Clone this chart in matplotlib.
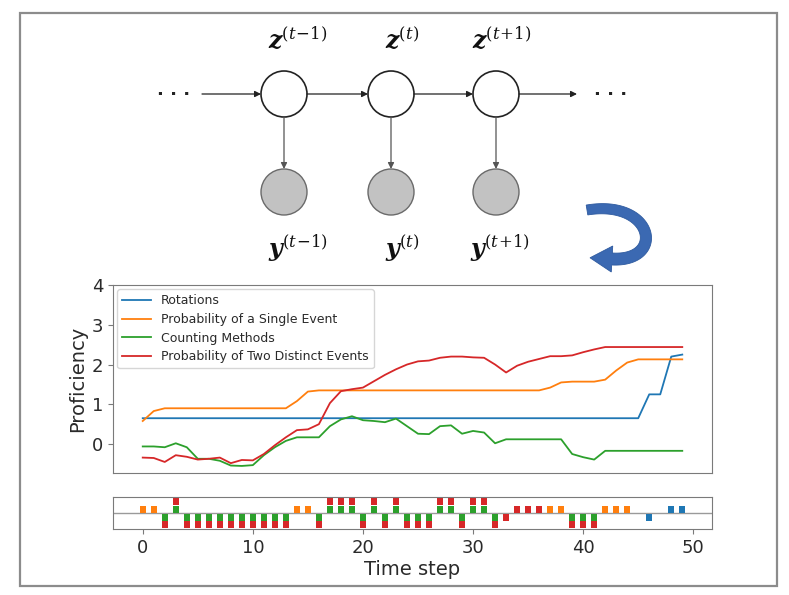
import matplotlib
matplotlib.use('Agg')
import matplotlib.pyplot as plt
from matplotlib.patches import Circle, Rectangle, Polygon
import numpy as np

plt.rcParams['mathtext.fontset'] = 'custom'
plt.rcParams['mathtext.rm'] = 'DejaVu Serif'
plt.rcParams['mathtext.it'] = 'DejaVu Serif:italic'
plt.rcParams['mathtext.bf'] = 'DejaVu Serif:italic:bold'

# ---------------- data ----------------
time_steps = list(range(50))

rotations = [0.65, 0.65, 0.65, 0.65, 0.65, 0.65, 0.65, 0.65, 0.65, 0.65,
             0.65, 0.65, 0.65, 0.65, 0.65, 0.65, 0.65, 0.65, 0.65, 0.65,
             0.65, 0.65, 0.65, 0.65, 0.65, 0.65, 0.65, 0.65, 0.65, 0.65,
             0.65, 0.65, 0.65, 0.65, 0.65, 0.65, 0.65, 0.65, 0.65, 0.65,
             0.65, 0.65, 0.65, 0.65, 0.65, 0.65, 1.25, 1.25, 2.20, 2.25]

single_event = [0.58, 0.83, 0.90, 0.90, 0.90, 0.90, 0.90, 0.90, 0.90, 0.90,
                0.90, 0.90, 0.90, 0.90, 1.08, 1.32, 1.35, 1.35, 1.35, 1.35,
                1.35, 1.35, 1.35, 1.35, 1.35, 1.35, 1.35, 1.35, 1.35, 1.35,
                1.35, 1.35, 1.35, 1.35, 1.35, 1.35, 1.35, 1.42, 1.55, 1.57,
                1.57, 1.57, 1.62, 1.85, 2.05, 2.13, 2.13, 2.13, 2.13, 2.13]

counting = [-0.06, -0.06, -0.08, 0.02, -0.08, -0.37, -0.37, -0.42, -0.54, -0.55,
            -0.53, -0.28, -0.08, 0.08, 0.17, 0.17, 0.17, 0.45, 0.62, 0.70,
            0.60, 0.58, 0.55, 0.64, 0.45, 0.26, 0.25, 0.45, 0.47, 0.26,
            0.33, 0.29, 0.02, 0.12, 0.12, 0.12, 0.12, 0.12, 0.12, -0.25,
            -0.33, -0.39, -0.17, -0.17, -0.17, -0.17, -0.17, -0.17, -0.17, -0.17]

two_events = [-0.34, -0.35, -0.45, -0.28, -0.32, -0.39, -0.37, -0.34, -0.48, -0.40,
              -0.41, -0.25, -0.03, 0.17, 0.35, 0.37, 0.50, 1.03, 1.33, 1.38,
              1.42, 1.58, 1.74, 1.88, 2.00, 2.08, 2.10, 2.17, 2.20, 2.20,
              2.18, 2.17, 2.00, 1.80, 1.97, 2.07, 2.14, 2.21, 2.21, 2.23,
              2.31, 2.38, 2.44, 2.44, 2.44, 2.44, 2.44, 2.44, 2.44, 2.44]

series_labels = ['Rotations', 'Probability of a Single Event',
                 'Counting Methods', 'Probability of Two Distinct Events']

# skills attempted at each time step (R=rotations, S=single event,
# C=counting methods, T=two distinct events) and outcome (+1 / -1)
strip_skills = ['S', 'S', 'CT', 'CT', 'CT', 'CT', 'CT', 'CT', 'CT', 'CT',
                'CT', 'CT', 'CT', 'CT', 'S', 'S', 'CT', 'CT', 'CT', 'CT',
                'CT', 'CT', 'CT', 'CT', 'CT', 'CT', 'CT', 'CT', 'CT', 'CT',
                'CT', 'CT', 'CT', 'T', 'T', 'T', 'T', 'S', 'S', 'CT',
                'CT', 'CT', 'S', 'S', 'S', '', 'R', '', 'R', 'R']
strip_outcome = [1, 1, -1, 1, -1, -1, -1, -1, -1, -1,
                 -1, -1, -1, -1, 1, 1, -1, 1, 1, 1,
                 -1, 1, -1, 1, -1, -1, -1, 1, 1, -1,
                 1, 1, -1, -1, 1, 1, 1, 1, 1, -1,
                 -1, -1, 1, 1, 1, 0, -1, 0, 1, 1]

x_ticks = [0, 10, 20, 30, 40, 50]
y_ticks = [0, 1, 2, 3, 4]

# ---------------- styling ----------------
c_blue, c_orange, c_green, c_red = '#1f77b4', '#ff7f0e', '#2ca02c', '#d62728'
series_colors = [c_blue, c_orange, c_green, c_red]
skill_colors = {'R': c_blue, 'S': c_orange, 'C': c_green, 'T': c_red}
spine_col = '#7a7a7a'
text_col = '#2a2a2a'

W, H = 789, 595
fig = plt.figure(figsize=(W / 100, H / 100), dpi=100)
fig.patch.set_facecolor('white')

# ---------- background drawing layer (pixel coordinates) ----------
bg = fig.add_axes([0, 0, 1, 1], zorder=0)
bg.set_xlim(0, W)
bg.set_ylim(H, 0)
bg.axis('off')

bg.add_patch(Rectangle((20, 13), 757, 573, fill=False,
                       edgecolor='#8c8c8c', lw=1.6))

node_x = [284, 391, 496]
z_y, y_y, r = 94, 192, 23
for nx in node_x:
    bg.add_patch(Circle((nx, z_y), r, facecolor='white',
                        edgecolor='#222222', lw=1.2, zorder=3))
    bg.add_patch(Circle((nx, y_y), r, facecolor='#c2c2c2',
                        edgecolor='#6a6a6a', lw=1.0, zorder=3))
    bg.annotate('', xy=(nx, y_y - r), xytext=(nx, z_y + r),
                arrowprops=dict(arrowstyle='-|>', color='#555555', lw=0.9,
                                mutation_scale=9, shrinkA=0, shrinkB=0))

h_segments = [(202, node_x[0] - r), (node_x[0] + r, node_x[1] - r),
              (node_x[1] + r, node_x[2] - r), (node_x[2] + r, 577)]
for xa, xb in h_segments:
    bg.annotate('', xy=(xb, z_y), xytext=(xa, z_y),
                arrowprops=dict(arrowstyle='-|>', color='#222222', lw=0.9,
                                mutation_scale=9, shrinkA=0, shrinkB=0))

bg.text(174, z_y + 1, '· · ·', ha='center', va='center', fontsize=13,
        fontweight='bold', color='#222222')
bg.text(611, z_y + 1, '· · ·', ha='center', va='center', fontsize=13,
        fontweight='bold', color='#222222')

z_labels = [r'$\mathbf{z}^{(t\!-\!1)}$', r'$\mathbf{z}^{(t)}$',
            r'$\mathbf{z}^{(t\!+\!1)}$']
y_labels = [r'$\mathbf{y}^{(t\!-\!1)}$', r'$\mathbf{y}^{(t)}$',
            r'$\mathbf{y}^{(t\!+\!1)}$']
z_lab_x = [298, 402, 502]
y_lab_x = [298, 402, 500]
for lab, lx in zip(z_labels, z_lab_x):
    bg.text(lx, 40, lab, ha='center', va='center', fontsize=17, color='#111111')
for lab, lx in zip(y_labels, y_lab_x):
    bg.text(lx, 248, lab, ha='center', va='center', fontsize=17, color='#111111')

# blue curved arrow
P = np.array([[587.0, 210.0], [654.0, 199.0], [666.0, 262.0], [612.0, 259.0]])
tt = np.linspace(0, 1, 80)[:, None]
B = ((1 - tt) ** 3) * P[0] + 3 * ((1 - tt) ** 2) * tt * P[1] + \
    3 * (1 - tt) * tt ** 2 * P[2] + tt ** 3 * P[3]
D = 3 * ((1 - tt) ** 2) * (P[1] - P[0]) + 6 * (1 - tt) * tt * (P[2] - P[1]) + \
    3 * tt ** 2 * (P[3] - P[2])
D = D / np.linalg.norm(D, axis=1)[:, None]
N = np.column_stack([-D[:, 1], D[:, 0]])
wband = np.linspace(10, 12, len(tt))[:, None]
left = B + N * wband / 2
right = B - N * wband / 2
u_end, n_end = D[-1], N[-1]
head = [P[3] + n_end * 13, P[3] + u_end * 22, P[3] - n_end * 13]
poly = np.vstack([left, head, right[::-1]])
bg.add_patch(Polygon(poly, closed=True, facecolor='#3b69b2',
                     edgecolor='#2e5a9f', lw=0.6, zorder=3))

# ---------------- main line chart ----------------
ax_l, ax_w = 113 / W, 599 / W
ax1 = fig.add_axes([ax_l, 1 - 472.7 / H, ax_w, (472.7 - 285) / H], zorder=2)
series = [rotations, single_event, counting, two_events]
for vals, lab, col in zip(series, series_labels, series_colors):
    ax1.plot(time_steps, vals, color=col, lw=1.3, label=lab)
ax1.set_ylim(-0.72, 4.0)
ax1.set_yticks(y_ticks)
ax1.set_xlim(-2.7, 51.7)
ax1.tick_params(axis='x', length=0, labelbottom=False)
ax1.tick_params(axis='y', labelsize=13, colors=spine_col, labelcolor=text_col)
ax1.set_ylabel('Proficiency', fontsize=14, color=text_col, labelpad=3)
for s in ax1.spines.values():
    s.set_color(spine_col)
leg = ax1.legend(loc='upper left', fontsize=9, handlelength=2.3,
                 borderaxespad=0.35, labelspacing=0.45)
for txt in leg.get_texts():
    txt.set_color(text_col)

# ---------------- response strip ----------------
ax2 = fig.add_axes([ax_l, 1 - 529.3 / H, ax_w, 32 / H], zorder=2)
ax2.axhline(0, color='#9a9a9a', lw=1.0, zorder=1)
seg_x = {k: [] for k in skill_colors}
seg_b = {k: [] for k in skill_colors}
seg_h = {k: [] for k in skill_colors}
for t, skills, outc in zip(time_steps, strip_skills, strip_outcome):
    for k, sk in enumerate(skills):
        seg_x[sk].append(t)
        seg_b[sk].append(outc * (k + 0.06))
        seg_h[sk].append(outc * 0.92)
for sk, col in skill_colors.items():
    if seg_x[sk]:
        ax2.bar(seg_x[sk], seg_h[sk], bottom=seg_b[sk], width=0.55,
                color=col, zorder=2)
ax2.set_ylim(-2.1, 2.1)
ax2.set_yticks([])
ax2.set_xlim(-2.7, 51.7)
ax2.set_xticks(x_ticks)
ax2.tick_params(axis='x', labelsize=13, colors=spine_col, labelcolor=text_col)
ax2.set_xlabel('Time step', fontsize=14, color=text_col, labelpad=2)
for s in ax2.spines.values():
    s.set_color(spine_col)

fig.savefig('out.png', dpi=100, facecolor='white')
